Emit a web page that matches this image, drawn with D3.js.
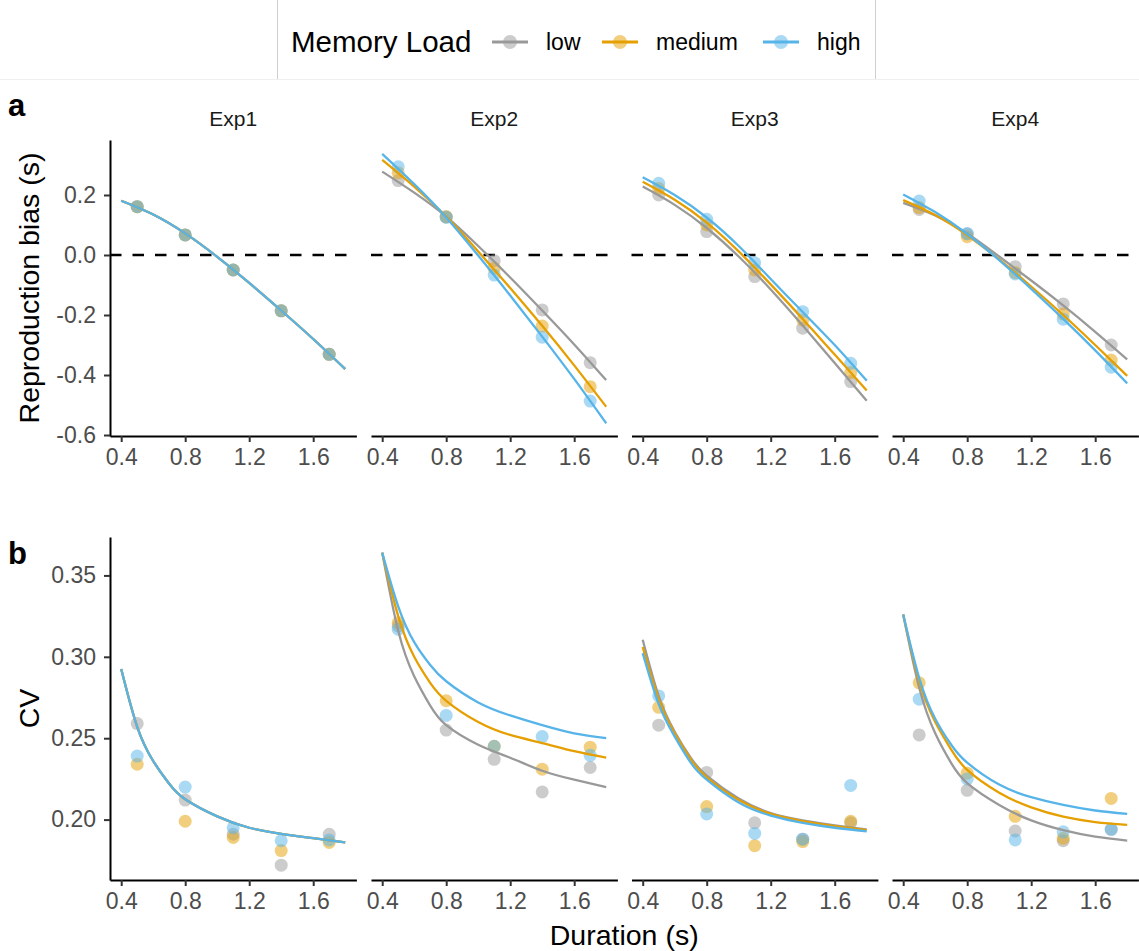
<!DOCTYPE html>
<html>
<head>
<meta charset="utf-8">
<script src="https://cdn.jsdelivr.net/npm/d3@7"></script>
<style>
  body { margin: 0; background: #fff; }
  svg { font-family: "Liberation Sans", Arial, Helvetica, sans-serif; }
</style>
</head>
<body>
<svg width="1139" height="951"></svg>
<script>
var svg = d3.select("svg");

// ---- data ----
var experiments = ["Exp1", "Exp2", "Exp3", "Exp4"];
var loads = ["low", "medium", "high"];
var loadColors = ["#999999", "#E69F00", "#56B4E9"];
var durations = [0.5, 0.8, 1.1, 1.4, 1.7];
var xTicks = [0.4, 0.8, 1.2, 1.6];
var biasTicks = [0.2, 0.0, -0.2, -0.4, -0.6];
var cvTicks = [0.20, 0.25, 0.30, 0.35];

// observed reproduction bias, per experiment: [low, medium, high]
var biasObs1 = [[0.161, 0.067, -0.050, -0.186, -0.331], [0.161, 0.067, -0.050, -0.186, -0.331], [0.161, 0.067, -0.050, -0.186, -0.331]];
var biasObs2 = [[0.248, 0.126, -0.019, -0.183, -0.359], [0.274, 0.128, -0.044, -0.237, -0.439], [0.294, 0.126, -0.067, -0.274, -0.487]];
var biasObs3 = [[0.200, 0.078, -0.072, -0.244, -0.422], [0.222, 0.100, -0.050, -0.217, -0.392], [0.239, 0.119, -0.026, -0.189, -0.361]];
var biasObs4 = [[0.152, 0.070, -0.039, -0.163, -0.300], [0.158, 0.061, -0.059, -0.197, -0.350], [0.180, 0.072, -0.063, -0.214, -0.374]];

// fitted reproduction bias curves, sampled at biasFitX
var biasFitX = [0.4, 0.6, 0.8, 1.0, 1.2, 1.4, 1.6, 1.8];
var biasFit1 = [[0.181, 0.135, 0.072, -0.006, -0.093, -0.185, -0.280, -0.380], [0.181, 0.135, 0.072, -0.006, -0.093, -0.185, -0.280, -0.380], [0.181, 0.135, 0.072, -0.006, -0.093, -0.185, -0.280, -0.380]];
var biasFit2 = [[0.278, 0.208, 0.128, 0.030, -0.075, -0.185, -0.298, -0.417], [0.317, 0.228, 0.128, 0.012, -0.110, -0.236, -0.368, -0.506], [0.337, 0.236, 0.125, -0.002, -0.135, -0.272, -0.413, -0.561]];
var biasFit3 = [[0.228, 0.167, 0.090, -0.005, -0.115, -0.235, -0.360, -0.486], [0.244, 0.184, 0.108, 0.012, -0.098, -0.213, -0.332, -0.452], [0.259, 0.200, 0.125, 0.030, -0.080, -0.190, -0.300, -0.419]];
var biasFit4 = [[0.174, 0.132, 0.072, -0.005, -0.085, -0.168, -0.256, -0.348], [0.183, 0.133, 0.066, -0.015, -0.105, -0.200, -0.300, -0.403], [0.202, 0.143, 0.070, -0.017, -0.113, -0.213, -0.318, -0.428]];

// observed CV, per experiment: [low, medium, high]
var cvObs1 = [[0.259, 0.212, 0.191, 0.172, 0.191], [0.234, 0.199, 0.189, 0.181, 0.186], [0.239, 0.220, 0.195, 0.187, 0.1875]];
var cvObs2 = [[0.319, 0.255, 0.237, 0.217, 0.232], [0.321, 0.273, 0.245, 0.231, 0.2445], [0.317, 0.264, 0.245, 0.251, 0.2395]];
var cvObs3 = [[0.258, 0.229, 0.198, 0.188, 0.198], [0.269, 0.208, 0.184, 0.1865, 0.199], [0.276, 0.2035, 0.1915, 0.188, 0.221]];
var cvObs4 = [[0.252, 0.218, 0.193, 0.187, 0.194], [0.284, 0.2285, 0.202, 0.1885, 0.213], [0.274, 0.225, 0.1875, 0.1925, 0.194]];

// fitted CV curves, sampled at cvFitX
var cvFitX = [0.4, 0.5, 0.6, 0.7, 0.8, 1.0, 1.2, 1.4, 1.6, 1.8];
var cvFit1 = [[0.2925, 0.257, 0.236, 0.222, 0.2125, 0.202, 0.195, 0.1912, 0.1886, 0.186], [0.2925, 0.257, 0.236, 0.222, 0.2125, 0.202, 0.195, 0.1912, 0.1886, 0.186], [0.2925, 0.257, 0.236, 0.222, 0.2125, 0.202, 0.195, 0.1912, 0.1886, 0.186]];
var cvFit2 = [[0.364, 0.316, 0.288, 0.270, 0.258, 0.246, 0.238, 0.230, 0.2245, 0.220], [0.364, 0.325, 0.300, 0.284, 0.273, 0.260, 0.252, 0.247, 0.242, 0.238], [0.364, 0.331, 0.309, 0.295, 0.285, 0.272, 0.264, 0.258, 0.253, 0.250]];
var cvFit3 = [[0.3105, 0.276, 0.254, 0.238, 0.227, 0.213, 0.204, 0.1995, 0.1965, 0.194], [0.306, 0.274, 0.253, 0.237, 0.226, 0.212, 0.2035, 0.199, 0.196, 0.1935], [0.3023, 0.271, 0.251, 0.235, 0.2245, 0.2105, 0.2025, 0.198, 0.195, 0.1928]];
var cvFit4 = [[0.326, 0.281, 0.253, 0.2347, 0.2224, 0.209, 0.1995, 0.1935, 0.1895, 0.1871], [0.326, 0.285, 0.260, 0.243, 0.2305, 0.2165, 0.2075, 0.2018, 0.1985, 0.1967], [0.326, 0.287, 0.262, 0.246, 0.235, 0.2215, 0.2138, 0.209, 0.2056, 0.2035]];

var biasObs = [biasObs1, biasObs2, biasObs3, biasObs4];
var biasFit = [biasFit1, biasFit2, biasFit3, biasFit4];
var cvObs = [cvObs1, cvObs2, cvObs3, cvObs4];
var cvFit = [cvFit1, cvFit2, cvFit3, cvFit4];

// ---- layout ----
var panelLeft = [110, 371, 631.5, 892];
var panelW = 246.4;
var rowA = { top: 140, bottom: 436 };
var rowB = { top: 537, bottom: 880 };
var tickFont = "23px";
var ink = "#4d4d4d";

var yA = d3.scaleLinear().domain([-0.6033, 0.3833]).range([rowA.bottom, rowA.top]);
var yB = d3.scaleLinear().domain([0.1629, 0.3736]).range([rowB.bottom, rowB.top]);

function styleAxis(g) {
  g.select(".domain").attr("stroke", "#000").attr("stroke-width", 2);
  g.selectAll(".tick line").attr("stroke", "#333").attr("stroke-width", 2);
  g.selectAll(".tick text").attr("fill", ink).style("font-size", tickFont);
}

function drawRow(row, yScale, obs, fit, fitX, yTicks, yFormat, dashed) {
  experiments.forEach(function(exp, i) {
    var x = d3.scaleLinear().domain([0.33, 1.87]).range([panelLeft[i], panelLeft[i] + panelW]);
    var g = svg.append("g").attr("class", "facet");

    g.append("g")
      .attr("transform", "translate(0," + row.bottom + ")")
      .call(d3.axisBottom(x).tickValues(xTicks).tickSize(6).tickSizeOuter(0).tickPadding(7).tickFormat(d3.format(".1f")))
      .call(styleAxis);

    if (i === 0) {
      g.append("g")
        .attr("transform", "translate(" + panelLeft[i] + ",0)")
        .call(d3.axisLeft(yScale).tickValues(yTicks).tickSize(6).tickSizeOuter(0).tickPadding(8).tickFormat(yFormat))
        .call(styleAxis);
    }

    if (dashed) {
      g.append("line")
        .attr("x1", x.range()[0]).attr("x2", x.range()[1])
        .attr("y1", yScale(0)).attr("y2", yScale(0))
        .attr("stroke", "#000").attr("stroke-width", 2.4)
        .attr("stroke-dasharray", "11.5,11");
    }

    var line = d3.line()
      .x(function(d) { return x(d[0]); })
      .y(function(d) { return yScale(d[1]); })
      .curve(d3.curveNatural);

    loads.forEach(function(load, k) {
      g.selectAll(".pt-" + load)
        .data(d3.zip(durations, obs[i][k]))
        .enter().append("circle")
        .attr("cx", function(d) { return x(d[0]); })
        .attr("cy", function(d) { return yScale(d[1]); })
        .attr("r", 6.5)
        .attr("fill", loadColors[k])
        .attr("fill-opacity", 0.5);
    });

    loads.forEach(function(load, k) {
      g.append("path")
        .datum(d3.zip(fitX, fit[i][k]))
        .attr("d", line)
        .attr("fill", "none")
        .attr("stroke", loadColors[k])
        .attr("stroke-width", 2.3);
    });

    if (row === rowA) {
      g.append("text")
        .attr("x", (x.range()[0] + x.range()[1]) / 2)
        .attr("y", 126)
        .attr("text-anchor", "middle")
        .attr("fill", "#1a1a1a")
        .style("font-size", "21px")
        .text(exp);
    }
  });
}

var fmtBias = function(d) { return d3.format(".1f")(d).replace("\u2212", "-"); };
drawRow(rowA, yA, biasObs, biasFit, biasFitX, biasTicks, fmtBias, true);
drawRow(rowB, yB, cvObs, cvFit, cvFitX, cvTicks, d3.format(".2f"), false);

// axis titles
svg.append("text")
  .attr("transform", "translate(39," + (rowA.top + rowA.bottom) / 2 + ") rotate(-90)")
  .attr("text-anchor", "middle")
  .style("font-size", "28.5px")
  .text("Reproduction bias (s)");

svg.append("text")
  .attr("transform", "translate(39," + (rowB.top + rowB.bottom) / 2 + ") rotate(-90)")
  .attr("text-anchor", "middle")
  .style("font-size", "28.5px")
  .text("CV");

svg.append("text")
  .attr("x", (panelLeft[0] + panelLeft[3] + panelW) / 2)
  .attr("y", 945)
  .attr("text-anchor", "middle")
  .style("font-size", "28.5px")
  .text("Duration (s)");

// panel tags
svg.append("text").attr("x", 8).attr("y", 116).style("font-size", "31px").style("font-weight", "bold").text("a");
svg.append("text").attr("x", 8).attr("y", 564).style("font-size", "31px").style("font-weight", "bold").text("b");

// legend
svg.append("line").attr("x1", 0).attr("x2", 1139).attr("y1", 79.5).attr("y2", 79.5).attr("stroke", "#efefef");
svg.append("line").attr("x1", 277.5).attr("x2", 277.5).attr("y1", 0).attr("y2", 79).attr("stroke", "#cfcfcf");
svg.append("line").attr("x1", 875.5).attr("x2", 875.5).attr("y1", 0).attr("y2", 79).attr("stroke", "#cfcfcf");

svg.append("text").attr("x", 291).attr("y", 52).style("font-size", "29.5px").text("Memory Load");

var legendKeyX = [510, 620, 781];
var legend = svg.selectAll(".legend-item")
  .data(loads)
  .enter().append("g")
  .attr("class", "legend-item")
  .attr("transform", function(d, k) { return "translate(" + legendKeyX[k] + ",42)"; });

legend.append("line")
  .attr("x1", -18).attr("x2", 18)
  .attr("stroke", function(d, k) { return loadColors[k]; })
  .attr("stroke-width", 3);
legend.append("circle")
  .attr("r", 7)
  .attr("fill", function(d, k) { return loadColors[k]; })
  .attr("fill-opacity", 0.5);
legend.append("text")
  .attr("x", 36)
  .attr("y", 8)
  .style("font-size", "23px")
  .text(function(d) { return d; });
</script>
</body>
</html>
